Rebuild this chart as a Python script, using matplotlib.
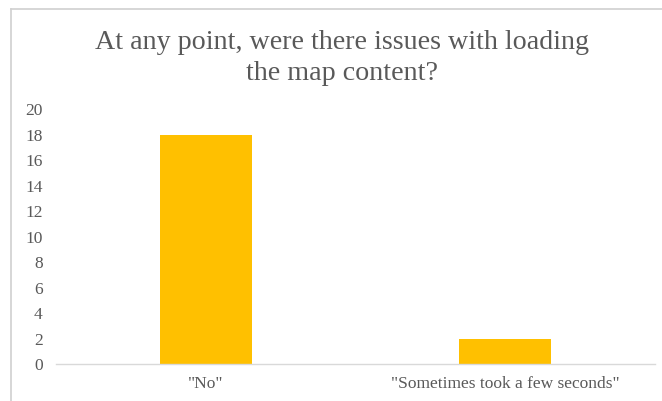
import matplotlib
matplotlib.use('Agg')
import matplotlib.pyplot as plt
from matplotlib.lines import Line2D

categories = ['"No"', '"Sometimes took a few seconds"']
counts = [18, 2]
yticks = [0, 2, 4, 6, 8, 10, 12, 14, 16, 18, 20]

plt.rcParams['font.family'] = ['Liberation Serif', 'DejaVu Serif']
text_color = '#595959'

fig = plt.figure(figsize=(6.62, 4.01), dpi=100)
ax = fig.add_axes([0.0853, 0.0923, 0.9034, 0.6354])

x = range(len(categories))
ax.bar(x, counts, width=0.31, color='#FFC000', zorder=2)

ax.set_xlim(-0.5, len(categories) - 0.5)
ax.set_ylim(0, 20)
ax.set_yticks(yticks)
ax.set_xticks(list(x))
ax.set_xticklabels(categories)

for side in ['top', 'right', 'left']:
    ax.spines[side].set_visible(False)
ax.spines['bottom'].set_color('#d9d9d9')
ax.spines['bottom'].set_linewidth(1.0)

ax.tick_params(axis='both', length=0, colors=text_color, labelsize=12.5)
ax.tick_params(axis='y', pad=10)
ax.tick_params(axis='x', pad=9)

fig.text(0.517, 0.855, 'At any point, were there issues with loading\nthe map content?',
         ha='center', va='center', fontsize=20.2, color=text_color,
         linespacing=1.33)

# chart frame border
fw, fh = 662, 401
fig.add_artist(Line2D([10.5 / fw, 10.5 / fw], [0, 1 - 9 / fh], transform=fig.transFigure,
                      color='#d0d0d0', linewidth=1.2))
fig.add_artist(Line2D([10.5 / fw, 1], [1 - 9 / fh, 1 - 9 / fh], transform=fig.transFigure,
                      color='#d0d0d0', linewidth=1.2))

fig.savefig('out.png', dpi=100)
